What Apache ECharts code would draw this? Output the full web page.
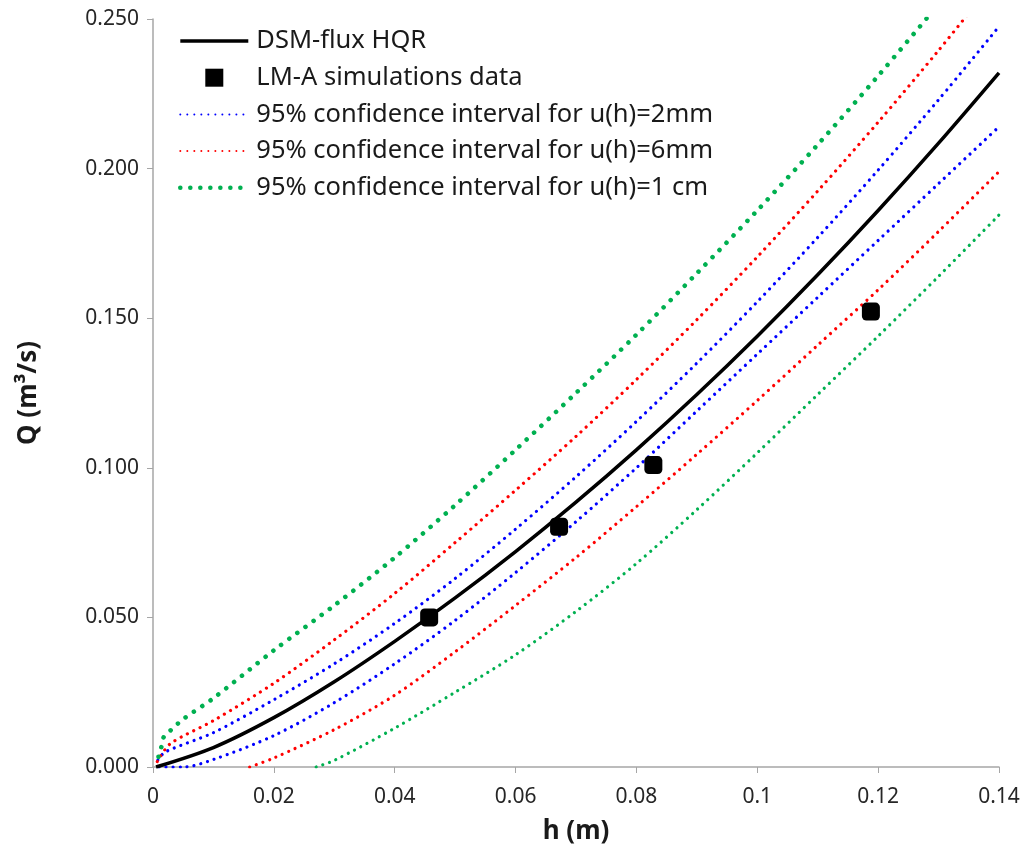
<!DOCTYPE html>
<html>
<head>
<meta charset="utf-8">
<script src="https://cdn.jsdelivr.net/npm/echarts@6/dist/echarts.min.js"></script>
<style>html,body{margin:0;padding:0;background:#fff}#c{width:1030px;height:854px}</style>
</head>
<body>
<div id="c"></div>
<script>
// h (m), Q (m3/s)
const hqr = [[0.0005,0],[0.01,0.0065],[0.02,0.0165],[0.03,0.0285],[0.04,0.042],[0.05,0.0565],[0.06,0.072],[0.07,0.0885],[0.08,0.106],[0.09,0.1245],[0.10,0.144],[0.11,0.1645],[0.12,0.186],[0.13,0.2085],[0.14,0.232]];
const lmA = [[0.0457,0.0500],[0.0672,0.0803],[0.0828,0.1009],[0.1188,0.1522]];
const ci2Up = [[0.0008,0.0023],[0.002,0.005],[0.01,0.0115],[0.02,0.0225],[0.03,0.0345],[0.04,0.048],[0.05,0.063],[0.06,0.0795],[0.07,0.097],[0.08,0.1155],[0.09,0.135],[0.10,0.1555],[0.11,0.177],[0.12,0.1995],[0.13,0.223],[0.14,0.2475]];
const ci2Lo = [[0.001,0],[0.005,0],[0.01,0.0025],[0.02,0.0105],[0.03,0.0215],[0.04,0.0345],[0.05,0.049],[0.06,0.065],[0.07,0.082],[0.08,0.100],[0.09,0.119],[0.10,0.138],[0.11,0.157],[0.12,0.176],[0.13,0.195],[0.14,0.214]];
const ci6Up = [[0.0007,0.0018],[0.001,0.003],[0.003,0.008],[0.01,0.0155],[0.02,0.028],[0.03,0.0425],[0.04,0.058],[0.05,0.075],[0.06,0.0925],[0.07,0.1105],[0.08,0.1295],[0.09,0.1495],[0.10,0.1705],[0.11,0.1925],[0.12,0.2155],[0.13,0.2395],[0.14,0.2645]];
const ci6Lo = [[0.016,0],[0.02,0.003],[0.03,0.0125],[0.04,0.024],[0.05,0.0385],[0.06,0.054],[0.07,0.070],[0.08,0.087],[0.09,0.1045],[0.10,0.1225],[0.11,0.141],[0.12,0.1595],[0.13,0.179],[0.14,0.199]];
const ci10Up = [[0.0009,0.0034],[0.0014,0.0068],[0.0018,0.0101],[0.003,0.0124],[0.005,0.016],[0.01,0.023],[0.02,0.039],[0.03,0.054],[0.04,0.070],[0.05,0.0875],[0.06,0.106],[0.07,0.125],[0.08,0.1445],[0.09,0.165],[0.10,0.186],[0.11,0.208],[0.12,0.231],[0.13,0.255],[0.14,0.280]];
const ci10Lo = [[0.027,0],[0.03,0.0022],[0.04,0.013],[0.05,0.025],[0.06,0.0375],[0.07,0.052],[0.08,0.068],[0.09,0.086],[0.10,0.105],[0.11,0.1245],[0.12,0.144],[0.13,0.164],[0.14,0.1845]];

const names = ['DSM-flux HQR','LM-A simulations data','95% confidence interval for u(h)=2mm','95% confidence interval for u(h)=6mm','95% confidence interval for u(h)=1 cm'];
const xTicks = [0,0.02,0.04,0.06,0.08,0.1,0.12,0.14];
const yTicks = [0,0.05,0.1,0.15,0.2,0.25];

const FONT = 'Noto Sans';
const chart = echarts.init(document.getElementById('c'), null, {renderer:'canvas'});

function dotted(name, data, color, width, gap) {
  return {
    name, type:'line', data, showSymbol:false, symbol:'none', smooth:0.3, clip:true,
    lineStyle:{color, width, type:[0.01, gap], cap:'round'},
    itemStyle:{color}, z:2
  };
}
const hide = {opacity:0};

chart.setOption({
  animation:false,
  backgroundColor:'#fff',
  textStyle:{fontFamily:FONT},
  grid:{left:153, right:31, top:19, bottom:87, containLabel:false},
  legend:{
    orient:'vertical', left:178, top:28, padding:0, itemWidth:68, itemHeight:18, itemGap:10.7,
    symbolKeepAspect:true,
    textStyle:{fontFamily:FONT, fontSize:25.5, lineHeight:18, color:'#1a1a1a', padding:[0,0,0,3]},
    data:[
      {name:names[0], itemStyle:hide, lineStyle:{width:3.5}},
      {name:names[1], icon:'path://M0,0L10,0L10,10L0,10Z'},
      {name:names[2], itemStyle:hide},
      {name:names[3], itemStyle:hide},
      {name:names[4], itemStyle:hide, lineStyle:{width:4.6, type:[0.01, 10], cap:'round'}}
    ]
  },
  xAxis:{
    type:'value', min:0, max:0.14, interval:0.02,
    name:'h (m)', nameLocation:'middle', nameGap:52,
    nameTextStyle:{fontFamily:FONT, fontSize:26, fontWeight:'bold', color:'#1a1a1a'},
    axisLine:{show:true, lineStyle:{color:'#a6a6a6', width:1.5}},
    axisTick:{show:true, length:6, lineStyle:{color:'#a6a6a6'}},
    axisLabel:{fontFamily:FONT, fontSize:21, color:'#262626', margin:20, formatter:v=>String(+v.toFixed(2))},
    splitLine:{show:false}
  },
  yAxis:{
    type:'value', min:0, max:0.25, interval:0.05,
    name:'Q (m³/s)', nameLocation:'middle', nameGap:111, nameRotate:90,
    nameTextStyle:{fontFamily:FONT, fontSize:26, fontWeight:'bold', color:'#1a1a1a'},
    axisLine:{show:true, lineStyle:{color:'#a6a6a6', width:1.5}},
    axisTick:{show:true, length:6, lineStyle:{color:'#a6a6a6'}},
    axisLabel:{fontFamily:FONT, fontSize:21, color:'#262626', margin:14, formatter:v=>v.toFixed(3)},
    splitLine:{show:false}
  },
  series:[
    {name:names[0], type:'line', data:hqr, showSymbol:false, symbol:'none', smooth:0.3,
     lineStyle:{color:'#000', width:3.5}, itemStyle:{color:'#000'}, z:3},
    {name:names[1], type:'scatter', data:lmA, symbol:'roundRect', symbolSize:18,
     itemStyle:{color:'#000', opacity:1}, z:5},
    dotted(names[2], ci2Up, '#0000ff', 3.2, 7),
    dotted(names[3], ci6Up, '#ff0000', 3.2, 7),
    dotted(names[4], ci10Up, '#00b050', 4.6, 10),
    dotted(names[2], ci2Lo, '#0000ff', 3.2, 7),
    dotted(names[3], ci6Lo, '#ff0000', 3.2, 7),
    dotted(names[4], ci10Lo, '#00b050', 3.2, 7)
  ]
});
</script>
</body>
</html>
